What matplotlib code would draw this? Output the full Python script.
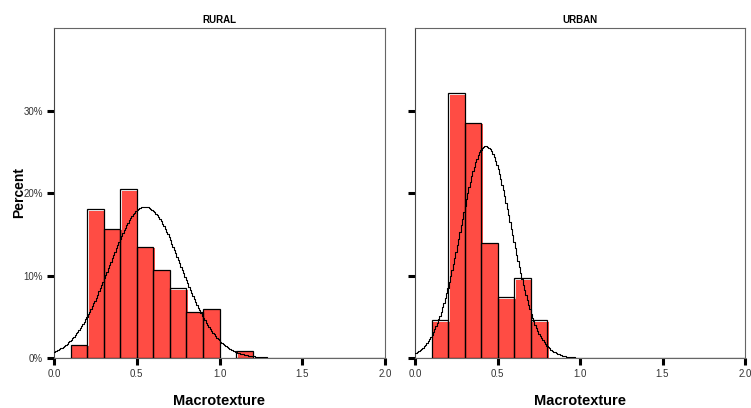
import matplotlib
matplotlib.use('Agg')
import matplotlib.pyplot as plt
import matplotlib.transforms as mtransforms
import numpy as np
from matplotlib import ticker

plt.rcParams['font.family'] = ['Liberation Sans', 'DejaVu Sans']

# Classes do histograma (limite inferior, largura 0.1)
binsRural = [0.1, 0.2, 0.3, 0.4, 0.5, 0.6, 0.7, 0.8, 0.9, 1.1]
pctRural  = [1.6, 18.1, 15.7, 20.5, 13.5, 10.7, 8.5, 5.6, 6.0, 0.9]
binsUrban = [0.1, 0.2, 0.3, 0.4, 0.5, 0.6, 0.7]
pctUrban  = [4.6, 32.2, 28.6, 14.0, 7.4, 9.7, 4.6]

# Curva normal ajustada (media, desvio padrao)
mediaRural, dpRural = 0.55, 0.217
mediaUrban, dpUrban = 0.43, 0.155

largura = 0.1
vermelho = '#ff4c44'

fig = plt.figure(figsize=(7.51, 4.08), dpi=100)
ax1 = fig.add_axes([54/751, 50/408, 331/751, 330/408])
ax2 = fig.add_axes([415/751, 50/408, 330/751, 330/408])

def painel(ax, bins, pct, media, dp, titulo, rotulos):
    # Preenchimento deslocado (efeito de sombra) + contorno preto
    desloc = mtransforms.offset_copy(ax.transData, fig=fig, x=1.5, y=-1.5, units='dots')
    barras = ax.bar(bins, pct, width=largura, align='edge', color=vermelho, linewidth=0, zorder=2)
    for p in barras:
        p.set_transform(desloc)
    ax.bar(bins, pct, width=largura, align='edge', fill=False, edgecolor='black', linewidth=0.9, zorder=3)

    # Curva normal em escada
    x = np.arange(0.0, 2.0001, 0.008)
    y = 100 * largura * np.exp(-0.5 * ((x - media) / dp) ** 2) / (dp * np.sqrt(2 * np.pi))
    ax.plot(x, y, color='black', linewidth=0.8, drawstyle='steps-mid', zorder=4)

    ax.axhline(0, color='#999999', linewidth=0.9, zorder=1)
    ax.set_xlim(0.0, 2.0)
    ax.set_ylim(0.0, 40.1)
    ax.xaxis.set_major_locator(ticker.FixedLocator([0.0, 0.5, 1.0, 1.5, 2.0]))
    ax.xaxis.set_major_formatter(ticker.FormatStrFormatter('%.1f'))
    ax.yaxis.set_major_locator(ticker.FixedLocator([0, 10, 20, 30]))
    if rotulos:
        ax.yaxis.set_major_formatter(ticker.FuncFormatter(lambda v, p: '%d%%' % v))
    else:
        ax.yaxis.set_major_formatter(ticker.NullFormatter())
    ax.tick_params(axis='both', direction='out', length=5, width=2.2, labelsize=7,
                   colors='black', labelcolor='#333333', pad=3)
    for s in ax.spines.values():
        s.set_color('#666666')
        s.set_linewidth(0.8)
    ax.spines['left'].set_color('#444444')
    ax.set_title(titulo, fontsize=7, fontweight='bold', pad=3.5)
    ax.set_xlabel('Macrotexture', fontsize=10.5, fontweight='bold', labelpad=11)

painel(ax1, binsRural, pctRural, mediaRural, dpRural, 'RURAL', True)
painel(ax2, binsUrban, pctUrban, mediaUrban, dpUrban, 'URBAN', False)

ax1.set_ylabel('Percent', fontsize=10, fontweight='bold', labelpad=-2)

fig.savefig('out.png', dpi=100)
